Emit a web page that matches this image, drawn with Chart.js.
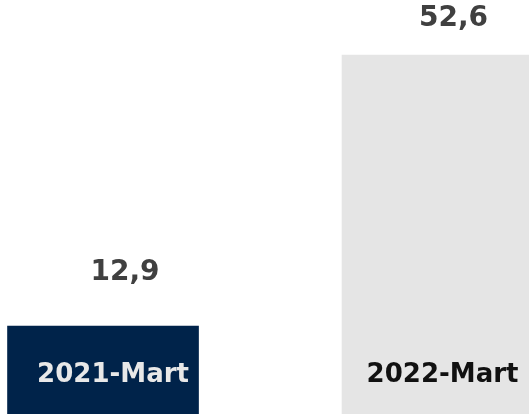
<!DOCTYPE html>
<html><head><meta charset="utf-8">
<script src="https://cdn.jsdelivr.net/npm/chart.js@4"></script>
<style>html,body{margin:0;padding:0;background:#fff}#wrap{width:529px;height:417px}</style>
</head><body><div id="wrap"><canvas id="c" width="529" height="417"></canvas></div>
<script>
const categories = ["2021-Mart", "2022-Mart"];
const values = [12.9, 52.6];
const valueLabels = ["12,9", "52,6"];
const barColors = ["#00234a", "#e5e5e5"];
const catColors = ["#e8e8e8", "#111111"];

const labelPlugin = {
  id: 'labels',
  afterDatasetsDraw(chart) {
    const ctx = chart.ctx;
    const meta = chart.getDatasetMeta(0);
    const valOff = [[22, 53], [16, 36]];
    const catOff = [10, 5];
    ctx.save();
    ctx.textAlign = 'center';
    ctx.textBaseline = 'middle';
    meta.data.forEach((bar, i) => {
      ctx.font = 'bold 28px "DejaVu Sans"';
      ctx.fillStyle = '#404040';
      ctx.fillText(valueLabels[i], bar.x + valOff[i][0], bar.y - valOff[i][1]);
      ctx.font = 'bold 26px "DejaVu Sans"';
      ctx.fillStyle = catColors[i];
      ctx.fillText(categories[i], bar.x + catOff[i], bar.base - 39);
    });
    ctx.restore();
  }
};

new Chart(document.getElementById('c'), {
  type: 'bar',
  data: {
    datasets: [{
      data: values.map((v, i) => ({ x: i, y: v })),
      backgroundColor: barColors,
      barThickness: 191,
      borderWidth: 0
    }]
  },
  options: {
    responsive: false,
    animation: false,
    layout: { padding: { left: 0, right: 0, top: 0, bottom: 3 } },
    plugins: { legend: { display: false }, tooltip: { enabled: false } },
    scales: {
      x: { type: 'linear', offset: false, min: -0.308, max: 1.2735, display: false, grid: { display: false } },
      y: { min: 0, max: 60.66, display: false, grid: { display: false } }
    }
  },
  plugins: [labelPlugin]
});
</script></body></html>
